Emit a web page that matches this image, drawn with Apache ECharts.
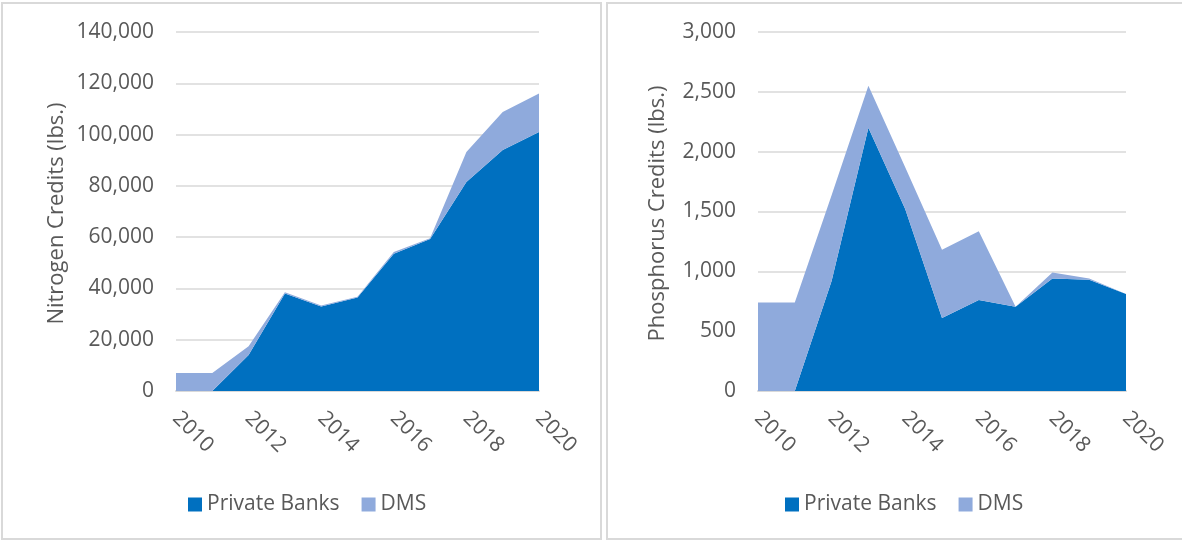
<!DOCTYPE html>
<html>
<head>
<meta charset="utf-8">
<script src="https://cdn.jsdelivr.net/npm/echarts@6/dist/echarts.min.js"></script>
<style>
    html, body { margin:0; padding:0; background:#fff; }
    #chart { width:1182px; height:540px; }
</style>
</head>
<body>
<div id="chart"></div>
<script>
    var years = ['2010','2011','2012','2013','2014','2015','2016','2017','2018','2019','2020'];
    // nitrogen credits (lbs.)
    var n_private = [0, 0, 14000, 38000, 33000, 36500, 53500, 59300, 81500, 94000, 101000];
    var n_dms = [7000, 7000, 3500, 500, 300, 300, 700, 300, 11700, 14800, 15000];
    // phosphorus credits (lbs.)
    var p_private = [0, 0, 920, 2200, 1520, 610, 760, 705, 940, 930, 810];
    var p_dms = [740, 740, 715, 350, 350, 570, 575, 0, 50, 10, 0];

    var colors = ['#0070C0', '#8FAADC'];
    var font = '"Open Sans", "Noto Sans", sans-serif';
    var txt = '#595959';

    function x_axis(idx){
        return {
            type:'category', gridIndex:idx, data:years, boundaryGap:false,
            axisLine:{ lineStyle:{ color:'#d9d9d9', width:2 } },
            axisTick:{ show:false },
            axisLabel:{ interval:1, rotate:-45, margin:24, color:txt, fontSize:21, fontFamily:font }
        };
    }
    function y_axis(idx, max, interval, name, gap){
        return {
            type:'value', gridIndex:idx, min:0, max:max, interval:interval,
            name:name, nameLocation:'middle', nameGap:gap,
            nameTextStyle:{ color:txt, fontSize:22, fontFamily:font, padding:[0,4,0,0] },
            axisLine:{ show:false }, axisTick:{ show:false },
            splitLine:{ lineStyle:{ color:'#d9d9d9', width:1.5 } },
            axisLabel:{
                margin:22, color:txt, fontSize:21, fontFamily:font,
                formatter:function(v){ return v.toLocaleString('en-US'); }
            }
        };
    }
    function area(name, idx, stack, data, color){
        return {
            name:name, type:'line', xAxisIndex:idx, yAxisIndex:idx, stack:stack,
            data:data, symbol:'none', color:color,
            lineStyle:{ width:0 }, areaStyle:{ color:color, opacity:1 }
        };
    }
    function legend(idx, left){
        return {
            left:left, top:489, itemWidth:14, itemHeight:14, itemGap:22,
            icon:'rect', data:['Private Banks','DMS'],
            textStyle:{ color:txt, fontSize:21, fontFamily:font }
        };
    }

    var chart = echarts.init(document.getElementById('chart'));
    chart.setOption({
        animation:false,
        color:colors,
        graphic:[
            { type:'rect', shape:{ x:2, y:3, width:599, height:536 }, style:{ fill:'none', stroke:'#d9d9d9', lineWidth:2 } },
            { type:'rect', shape:{ x:607, y:3, width:600, height:536 }, style:{ fill:'none', stroke:'#d9d9d9', lineWidth:2 } }
        ],
        grid:[
            { left:176, top:32, width:363, height:359 },
            { left:758, top:32, width:368, height:359 }
        ],
        legend:[ legend(0, 183), legend(1, 780) ],
        xAxis:[ x_axis(0), x_axis(1) ],
        yAxis:[
            y_axis(0, 140000, 20000, 'Nitrogen Credits (lbs.)', 108),
            y_axis(1, 3000, 500, 'Phosphorus Credits (lbs.)', 89)
        ],
        series:[
            area('Private Banks', 0, 'n', n_private, colors[0]),
            area('DMS', 0, 'n', n_dms, colors[1]),
            area('Private Banks', 1, 'p', p_private, colors[0]),
            area('DMS', 1, 'p', p_dms, colors[1])
        ]
    });
</script>
</body>
</html>
